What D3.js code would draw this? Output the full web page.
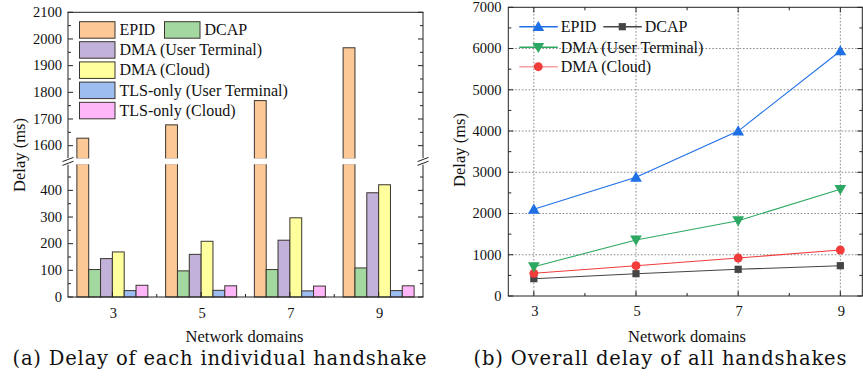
<!DOCTYPE html>
<html><head><meta charset="utf-8">
<script src="https://cdn.jsdelivr.net/npm/d3@7"></script>
<style>body{margin:0;background:#fff}svg{display:block}</style>
</head><body>
<svg id="c" width="863" height="381"></svg>
<script>
// ---------- data ----------
const domains = [3, 5, 7, 9];
const barSeries = ["EPID", "DCAP", "DMA (User Terminal)", "DMA (Cloud)", "TLS-only (User Terminal)", "TLS-only (Cloud)"];
const epidBar = [1628, 1678, 1769, 1967];
const dcapBar = [103, 98, 103, 109];
const dmaUTBar = [144, 160, 213, 391];
const dmaCloudBar = [169, 209, 297, 421];
const tlsUTBar = [24, 25, 23, 24];
const tlsCloudBar = [44, 42, 41, 42];
const barColors = ["#fbc896", "#a3d8a0", "#c2b1d8", "#ffff9e", "#9dbcf0", "#ffb6f8"];

const lineSeries = ["EPID", "DCAP", "DMA (User Terminal)", "DMA (Cloud)"];
const epidTotal = [2102, 2878, 3999, 5941];
const dcapTotal = [420, 541, 647, 735];
const dmaUTTotal = [711, 1358, 1826, 2587];
const dmaCloudTotal = [550, 735, 921, 1115];
const lineColors = ["#1f6fe5", "#454545", "#2da862", "#f23c3c"];

const leftUpperTicks = [1600, 1700, 1800, 1900, 2000, 2100];
const leftUpperMinor = [1650, 1750, 1850, 1950, 2050];
const leftLowerTicks = [0, 100, 200, 300, 400];
const leftLowerMinor = [50, 150, 250, 350, 450];
const rightYTicks = [0, 1000, 2000, 3000, 4000, 5000, 6000, 7000];
const rightYMinor = [500, 1500, 2500, 3500, 4500, 5500, 6500];
const xMinor = [4, 6, 8];

const captionA = "(a) Delay of each individual handshake";
const captionB = "(b) Overall delay of all handshakes";
const yTitle = "Delay (ms)";
const xTitle = "Network domains";

// ---------- setup ----------
const svg = d3.select("#c");
const serif = "'Liberation Serif','Times New Roman',serif";
const capFont = "'DejaVu Serif',serif";
const ink = "#222";

function line(g, x1, y1, x2, y2, stroke, w) {
  g.append("line").attr("x1", x1).attr("y1", y1).attr("x2", x2).attr("y2", y2)
    .attr("stroke", stroke || ink).attr("stroke-width", w || 1);
}
function text(g, x, y, s, size, anchor, font) {
  return g.append("text").attr("x", x).attr("y", y).text(s)
    .attr("font-family", font || serif).attr("font-size", size)
    .attr("text-anchor", anchor || "middle").attr("fill", "#111");
}

// ================= LEFT CHART =================
const L = { x0: 68, x1: 423, top: 12.3, brkTop: 159, brkBot: 163.7, bottom: 297 };
const xL = d3.scaleLinear().domain([2, 10]).range([L.x0, L.x1]);
const yUp = d3.scaleLinear().domain([1550, 2100]).range([L.brkTop, L.top]);
const yLo = d3.scaleLinear().domain([0, 500]).range([L.bottom, L.brkBot]);
const inner = d3.scaleBand().domain(barSeries).range([-35.5, 35.5]).padding(0);
const barValues = [epidBar, dcapBar, dmaUTBar, dmaCloudBar, tlsUTBar, tlsCloudBar];

const gL = svg.append("g");
const barData = [];
barSeries.forEach((s, i) => domains.forEach((d, j) => barData.push({ s, i, d, v: barValues[i][j] })));

gL.selectAll("rect.lo").data(barData).join("rect").attr("class", "lo")
  .attr("x", d => xL(d.d) + inner(d.s))
  .attr("width", inner.bandwidth())
  .attr("y", d => yLo(Math.min(d.v, 500)))
  .attr("height", d => L.bottom - yLo(Math.min(d.v, 500)))
  .attr("fill", d => barColors[d.i]).attr("stroke", "#3a3530").attr("stroke-width", 1);
gL.selectAll("rect.up").data(barData.filter(d => d.v > 1550)).join("rect").attr("class", "up")
  .attr("x", d => xL(d.d) + inner(d.s))
  .attr("width", inner.bandwidth())
  .attr("y", d => yUp(d.v))
  .attr("height", d => L.brkTop - yUp(d.v))
  .attr("fill", d => barColors[d.i]).attr("stroke", "#3a3530").attr("stroke-width", 1);
gL.append("rect").attr("x", L.x0 - 8).attr("y", L.brkTop - 0.6).attr("width", L.x1 - L.x0 + 16)
  .attr("height", L.brkBot - L.brkTop + 1.2).attr("fill", "#fff");

line(gL, L.x0, L.top, L.x0, L.brkTop - 1);
line(gL, L.x0, L.brkBot + 1, L.x0, L.bottom);
line(gL, L.x1, L.top, L.x1, L.brkTop - 1);
line(gL, L.x1, L.brkBot + 1, L.x1, L.bottom);
line(gL, L.x0 - 0.5, L.top, L.x1 + 0.5, L.top);
line(gL, L.x0 - 0.5, L.bottom, L.x1 + 0.5, L.bottom);
[L.x0, L.x1].forEach(ax => {
  line(gL, ax - 5.5, 161.6, ax + 5.5, 157.4, ink, 1);
  line(gL, ax - 5.5, 165.4, ax + 5.5, 161.2, ink, 1);
});
const yTicksL = [];
leftUpperTicks.forEach(v => yTicksL.push({ y: yUp(v), len: 5, label: v }));
leftUpperMinor.forEach(v => yTicksL.push({ y: yUp(v), len: 3 }));
leftLowerTicks.forEach(v => yTicksL.push({ y: yLo(v), len: 5, label: v }));
leftLowerMinor.forEach(v => yTicksL.push({ y: yLo(v), len: 3 }));
yTicksL.forEach(t => {
  line(gL, L.x0, t.y, L.x0 + t.len, t.y);
  line(gL, L.x1, t.y, L.x1 - t.len, t.y);
  if (t.label !== undefined) text(gL, 62, t.y + 4.8, t.label, 14.5, "end");
});
domains.forEach(d => { line(gL, xL(d), L.bottom, xL(d), L.bottom - 5); text(gL, xL(d) + 1, 318, d, 14.5); });
xMinor.forEach(d => line(gL, xL(d), L.bottom, xL(d), L.bottom - 3));
text(gL, 0, 0, yTitle, 16.5).attr("transform", "translate(25,155) rotate(-90)");
text(gL, 244.5, 342, xTitle, 16.5);
text(gL, 219.5, 365, captionA, 19.5, "middle", capFont)
  .attr("textLength", 414).attr("lengthAdjust", "spacing");

const legL = [
  { x: 79.5, y: 21.7 }, { x: 164.5, y: 21.7 }, { x: 79.5, y: 41.7 },
  { x: 79.5, y: 61.9 }, { x: 79.5, y: 82.1 }, { x: 79.5, y: 102.3 }
];
barSeries.forEach((s, i) => {
  const p = legL[i];
  gL.append("rect").attr("x", p.x).attr("y", p.y).attr("width", 35.5).attr("height", 16.5)
    .attr("fill", barColors[i]).attr("stroke", "#3a3530").attr("stroke-width", 1);
  text(gL, p.x + 40, p.y + 13.5, s, 16, "start");
});

// ================= RIGHT CHART =================
const R = { x0: 508.3, x1: 862.3, top: 7.3, bottom: 296 };
const xR = d3.scaleLinear().domain([2.5, 9.43]).range([R.x0, R.x1]);
const yR = d3.scaleLinear().domain([0, 7000]).range([R.bottom, R.top]);
const gR = svg.append("g");

domains.forEach(d => gR.append("line").attr("x1", xR(d)).attr("x2", xR(d)).attr("y1", R.top).attr("y2", R.bottom)
  .attr("stroke", "#8a8a8a").attr("stroke-width", 1).attr("stroke-dasharray", "1.6,1.8"));
rightYTicks.filter(v => v > 0 && v < 7000).forEach(v => gR.append("line").attr("x1", R.x0).attr("x2", R.x1)
  .attr("y1", yR(v)).attr("y2", yR(v)).attr("stroke", "#8a8a8a").attr("stroke-width", 1).attr("stroke-dasharray", "1.6,1.8"));

line(gR, R.x0, R.top, R.x0, R.bottom);
line(gR, R.x1, R.top, R.x1, R.bottom);
line(gR, R.x0 - 0.5, R.top, R.x1 + 0.5, R.top);
line(gR, R.x0 - 0.5, R.bottom, R.x1 + 0.5, R.bottom);
rightYTicks.forEach(v => {
  line(gR, R.x0, yR(v), R.x0 + 5, yR(v));
  line(gR, R.x1, yR(v), R.x1 - 5, yR(v));
  text(gR, 501.5, yR(v) + 4.8, v, 14.5, "end");
});
rightYMinor.forEach(v => { line(gR, R.x0, yR(v), R.x0 + 3, yR(v)); line(gR, R.x1, yR(v), R.x1 - 3, yR(v)); });
domains.forEach(d => {
  line(gR, xR(d), R.bottom, xR(d), R.bottom - 5);
  line(gR, xR(d), R.top, xR(d), R.top + 5);
  text(gR, xR(d) + 1, 316, d, 14.5);
});
xMinor.forEach(d => { line(gR, xR(d), R.bottom, xR(d), R.bottom - 3); line(gR, xR(d), R.top, xR(d), R.top + 3); });

text(gR, 0, 0, yTitle, 16.5).attr("transform", "translate(465,150) rotate(-90)");
text(gR, 687, 342, xTitle, 16.5);
text(gR, 660, 365, captionB, 19.5, "middle", capFont)
  .attr("textLength", 373).attr("lengthAdjust", "spacing");

const lineValues = [epidTotal, dcapTotal, dmaUTTotal, dmaCloudTotal];
const symbols = [
  { t: d3.symbolTriangle, size: 60, rot: 0 },
  { t: d3.symbolSquare, size: 52, rot: 0 },
  { t: d3.symbolTriangle, size: 60, rot: 180 },
  { t: d3.symbolCircle, size: 62, rot: 0 }
];
const lineGen = d3.line().x(d => xR(d.d)).y(d => yR(d.v));
const order = [1, 3, 2, 0];
order.forEach(i => {
  const pts = domains.map((d, j) => ({ d, v: lineValues[i][j] }));
  gR.append("path").attr("d", lineGen(pts)).attr("fill", "none")
    .attr("stroke", lineColors[i]).attr("stroke-width", 1.1);
  gR.selectAll(null).data(pts).join("path")
    .attr("d", d3.symbol().type(symbols[i].t).size(symbols[i].size))
    .attr("transform", d => `translate(${xR(d.d)},${yR(d.v) + (symbols[i].t === d3.symbolTriangle ? (symbols[i].rot ? -1 : 1) : 0)}) rotate(${symbols[i].rot})`)
    .attr("fill", lineColors[i]);
});

const legR = [
  { x: 519.3, y: 26.7 }, { x: 603.3, y: 26.7 }, { x: 519.3, y: 47.3 }, { x: 519.3, y: 66.7 }
];
const legLineColors = ["#1f6fe5", "#454545", "#2da862", "#f6a0a0"];
lineSeries.forEach((s, i) => {
  const p = legR[i];
  line(gR, p.x, p.y, p.x + 38.5, p.y, legLineColors[i], 1.6);
  gR.append("path").attr("d", d3.symbol().type(symbols[i].t).size(symbols[i].size)())
    .attr("transform", `translate(${p.x + 19},${p.y + (symbols[i].t === d3.symbolTriangle ? (symbols[i].rot ? -1 : 1) : 0)}) rotate(${symbols[i].rot})`)
    .attr("fill", lineColors[i]);
  text(gR, p.x + 41.5, p.y + 5.5, s, 16, "start");
});
</script>
</body></html>
